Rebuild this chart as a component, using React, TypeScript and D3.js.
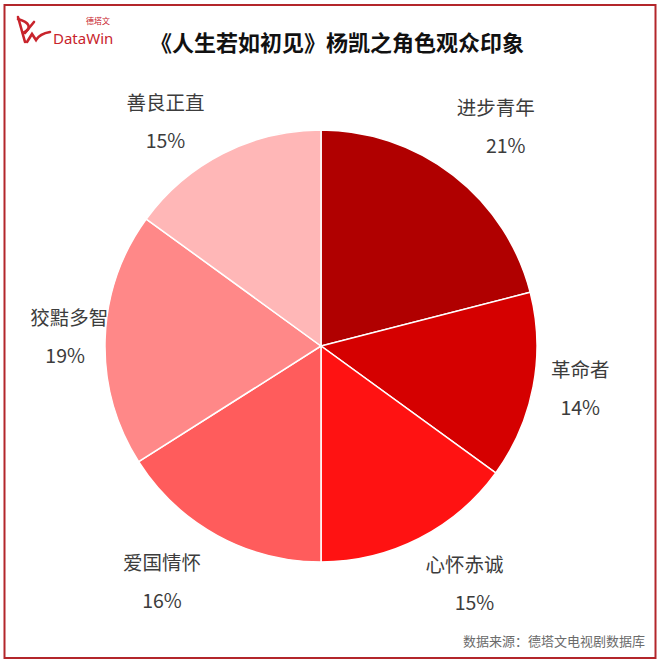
import React from "react";
import * as d3 from "d3";

const categories = ["进步青年", "革命者", "心怀赤诚", "爱国情怀", "狡黠多智", "善良正直"];
const values = [21, 14, 15, 16, 19, 15];
const colors = ["#b00000", "#d50000", "#ff1212", "#ff5c5c", "#ff8888", "#ffb7b7"];
// small nudges (px) to mimic the original label placement
const labelNudge: [number, number][] = [
  [8, -4],
  [-8, -8],
  [20, -4],
  [-28, -2],
  [20, 0],
  [-32, 18],
];

const W = 660;
const H = 665;
const cx = 321;
const cy = 346;
const R = 216;
const labelR = 272;

export default function App() {
  const pie = d3.pie<number>().sort(null).value((d) => d);
  const arcs = pie(values);
  const arcGen = d3.arc<d3.PieArcDatum<number>>().innerRadius(0).outerRadius(R);
  const labelArc = d3.arc<d3.PieArcDatum<number>>().innerRadius(labelR).outerRadius(labelR);
  const font = "'Noto Sans CJK SC', 'Noto Sans', sans-serif";

  return (
    <svg width={W} height={H} style={{ position: "absolute", left: 0, top: 0, background: "#fff" }}>
      <rect x={0} y={0} width={W} height={H} fill="#fff" />
      <rect x={4.5} y={5} width={651} height={653} fill="none" stroke="#b3262b" strokeWidth={2} />
      {/* logo */}
      <g fill="none" stroke="#c8242c" strokeWidth={2.6} strokeLinecap="round">
        <path d="M18 17 L25 42" />
        <path d="M18 19 C 29 22, 33 28, 23 33" />
        <path d="M25 33 L34 22" />
        <path d="M27 42 L32 34 L36 40 C 39 35, 44 33, 50 32" />
      </g>
      <text x={53} y={44} fontFamily="'Noto Sans', sans-serif" fontSize={15} fill="#c8242c">DataWin</text>
      <text x={86} y={24} fontFamily={font} fontSize={8} fill="#c8242c">德塔文</text>
      {/* title */}
      <text x={337} y={51} textAnchor="middle" fontFamily={font} fontSize={22} fontWeight={700} fill="#111">
        《人生若如初见》杨凯之角色观众印象
      </text>
      {/* pie */}
      <g transform={`translate(${cx},${cy})`}>
        {arcs.map((a, i) => (
          <path key={i} d={arcGen(a) || ""} fill={colors[i]} stroke="#fff" strokeWidth={1.5} />
        ))}
        {arcs.map((a, i) => {
          const [x, y] = labelArc.centroid(a);
          const lx = x + labelNudge[i][0];
          const ly = y + labelNudge[i][1];
          return (
            <g key={"l" + i} fontFamily={font} fontSize={19.5} fill="#3c3c3c" textAnchor="middle">
              <text x={lx} y={ly - 12}>{categories[i]}</text>
              <text x={lx + (i === 0 || i === 2 ? 10 : i === 4 ? -4 : 0)} y={ly + 26}>{values[i] + "%"}</text>
            </g>
          );
        })}
      </g>
      <text x={645} y={646} textAnchor="end" fontFamily={font} fontSize={13} fill="#6b6b6b">
        数据来源：德塔文电视剧数据库
      </text>
    </svg>
  );
}
